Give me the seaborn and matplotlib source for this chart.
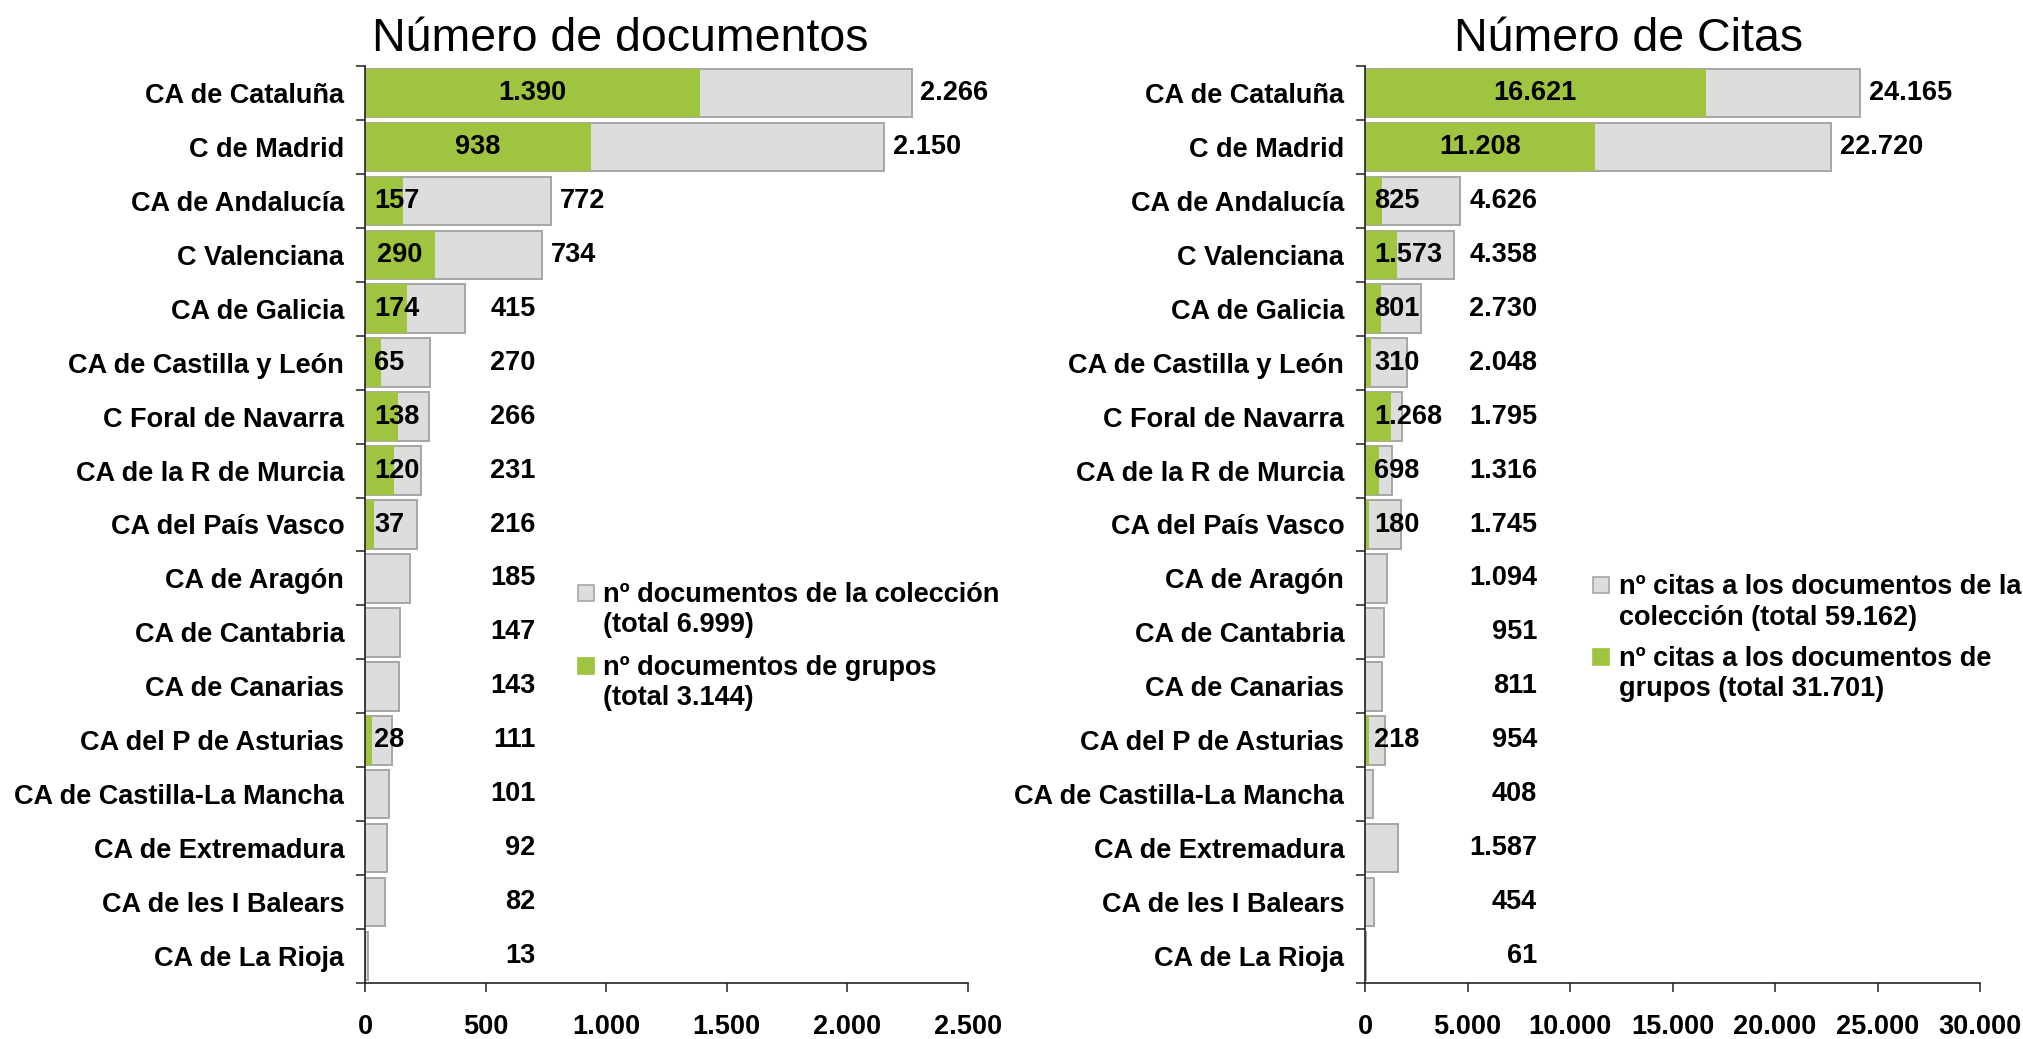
import numpy as np
import pandas as pd
import matplotlib
matplotlib.use("Agg")
import matplotlib.pyplot as plt
from matplotlib.patches import Rectangle
import seaborn as sns


# Datos

regiones = [
    "CA de Cataluña", "C de Madrid", "CA de Andalucía", "C Valenciana",
    "CA de Galicia", "CA de Castilla y León", "C Foral de Navarra",
    "CA de la R de Murcia", "CA del País Vasco", "CA de Aragón",
    "CA de Cantabria", "CA de Canarias", "CA del P de Asturias",
    "CA de Castilla-La Mancha", "CA de Extremadura", "CA de les I Balears",
    "CA de La Rioja",
]
docs_total = [2266, 2150, 772, 734, 415, 270, 266, 231, 216, 185, 147, 143,
              111, 101, 92, 82, 13]
docs_grupos = [1390, 938, 157, 290, 174, 65, 138, 120, 37, 0, 0, 0,
               28, 0, 0, 0, 0]
citas_total = [24165, 22720, 4626, 4358, 2730, 2048, 1795, 1316, 1745, 1094,
               951, 811, 954, 408, 1587, 454, 61]
citas_grupos = [16621, 11208, 825, 1573, 801, 310, 1268, 698, 180, 0, 0, 0,
                218, 0, 0, 0, 0]

titulos = ["Número de documentos", "Número de Citas"]
leyenda_docs = [
    ("nº documentos de la colección", "(total 6.999)"),
    ("nº documentos de grupos", "(total 3.144)"),
]
leyenda_citas = [
    ("nº citas a los documentos de la", "colección (total 59.162)"),
    ("nº citas a los documentos de", "grupos (total 31.701)"),
]

GRIS = "#DDDDDD"
BORDE = "#A6A6A6"
VERDE = "#9FC43F"
EJE = "#222222"
FS = 19.5

W, H = 2024, 1039


def miles(v):
    return f"{v:,.0f}".replace(",", ".")


def fx(px):
    return px / W


def fy(py):
    return 1 - py / H


def dibujar_panel(ax, total, grupos, xmax, paso, pad, x_fijo,
                  corte_total, corte_grupo):
    df = pd.DataFrame({"region": regiones, "total": total, "grupos": grupos})

    sns.barplot(data=df, x="total", y="region", orient="h", color=GRIS,
                edgecolor=BORDE, linewidth=1.4, width=0.9, saturation=1,
                errorbar=None, ax=ax)
    sns.barplot(data=df, x="grupos", y="region", orient="h", color=VERDE,
                linewidth=0, width=0.9, saturation=1, errorbar=None, ax=ax)

    # etiquetas de valores
    for i, (t, g) in enumerate(zip(total, grupos)):
        if t > corte_total:
            ax.text(t + pad, i, miles(t), ha="left", va="center",
                    fontsize=FS, fontweight="bold")
        else:
            ax.text(x_fijo, i, miles(t), ha="right", va="center",
                    fontsize=FS, fontweight="bold")
        if g > 0:
            if g > corte_grupo:
                ax.text(g / 2, i, miles(g), ha="center", va="center",
                        fontsize=FS, fontweight="bold")
            else:
                ax.text(pad, i, miles(g), ha="left", va="center",
                        fontsize=FS, fontweight="bold")

    ax.set_xlim(0, xmax)
    ax.set_ylim(len(regiones) - 0.5, -0.5)
    ticks = np.arange(0, xmax + 1, paso)
    ax.set_xticks(ticks)
    ax.set_xticklabels([miles(v) for v in ticks], fontsize=FS,
                       fontweight="bold")
    ax.set_yticks(range(len(regiones)))
    ax.set_yticklabels(regiones, fontsize=FS, fontweight="bold")
    ax.set_yticks(np.arange(-0.5, len(regiones), 1), minor=True)
    ax.tick_params(axis="y", which="major", left=True, length=0, pad=15)
    ax.tick_params(axis="y", which="minor", left=True, length=6.5,
                   width=1.1, color=EJE, direction="out")
    ax.tick_params(axis="x", which="major", bottom=True, length=6.5,
                   width=1.1, color=EJE, direction="out", pad=16)
    ax.set_xlabel("")
    ax.set_ylabel("")
    for lado in ["top", "right"]:
        ax.spines[lado].set_visible(False)
    for lado in ["left", "bottom"]:
        ax.spines[lado].set_color(EJE)
        ax.spines[lado].set_linewidth(1.2)


def dibujar_leyenda(fig, x_cuadro, x_texto, lineas_base, entradas):
    colores = [(GRIS, BORDE), (VERDE, VERDE)]
    for (l1, l2), (b1, b2), (cf, ce) in zip(entradas, lineas_base, colores):
        fig.add_artist(Rectangle((fx(x_cuadro), fy(b1 - 1)), 16 / W, 16 / H,
                                 transform=fig.transFigure, facecolor=cf,
                                 edgecolor=ce, linewidth=1.2))
        fig.text(fx(x_texto), fy(b1), l1, ha="left", va="baseline",
                 fontsize=FS, fontweight="bold")
        fig.text(fx(x_texto), fy(b2), l2, ha="left", va="baseline",
                 fontsize=FS, fontweight="bold")


sns.set_style("ticks")
plt.rcParams["font.family"] = ["Liberation Sans", "DejaVu Sans"]
plt.rcParams["text.color"] = "black"
plt.rcParams["xtick.color"] = "black"
plt.rcParams["ytick.color"] = "black"

fig = plt.figure(figsize=(W / 100, H / 100), dpi=100)

ax1 = fig.add_axes([fx(365), fy(983), (968 - 365) / W, (983 - 66) / H])
ax2 = fig.add_axes([fx(1365), fy(983), (1980 - 1365) / W, (983 - 66) / H])

dibujar_panel(ax1, docs_total, docs_grupos, 2500, 500, 37, 707, 600, 250)
dibujar_panel(ax2, citas_total, citas_grupos, 30000, 5000, 440, 8400,
              10000, 5000)

fig.text(fx(620), fy(51), titulos[0], ha="center", va="baseline",
         fontsize=33.5)
fig.text(fx(1629), fy(51), titulos[1], ha="center", va="baseline",
         fontsize=33.5)

dibujar_leyenda(fig, 578, 603, [(602, 632), (675, 705)], leyenda_docs)
dibujar_leyenda(fig, 1593, 1619, [(594, 625), (666, 696)], leyenda_citas)

fig.savefig("out.png", dpi=100)
